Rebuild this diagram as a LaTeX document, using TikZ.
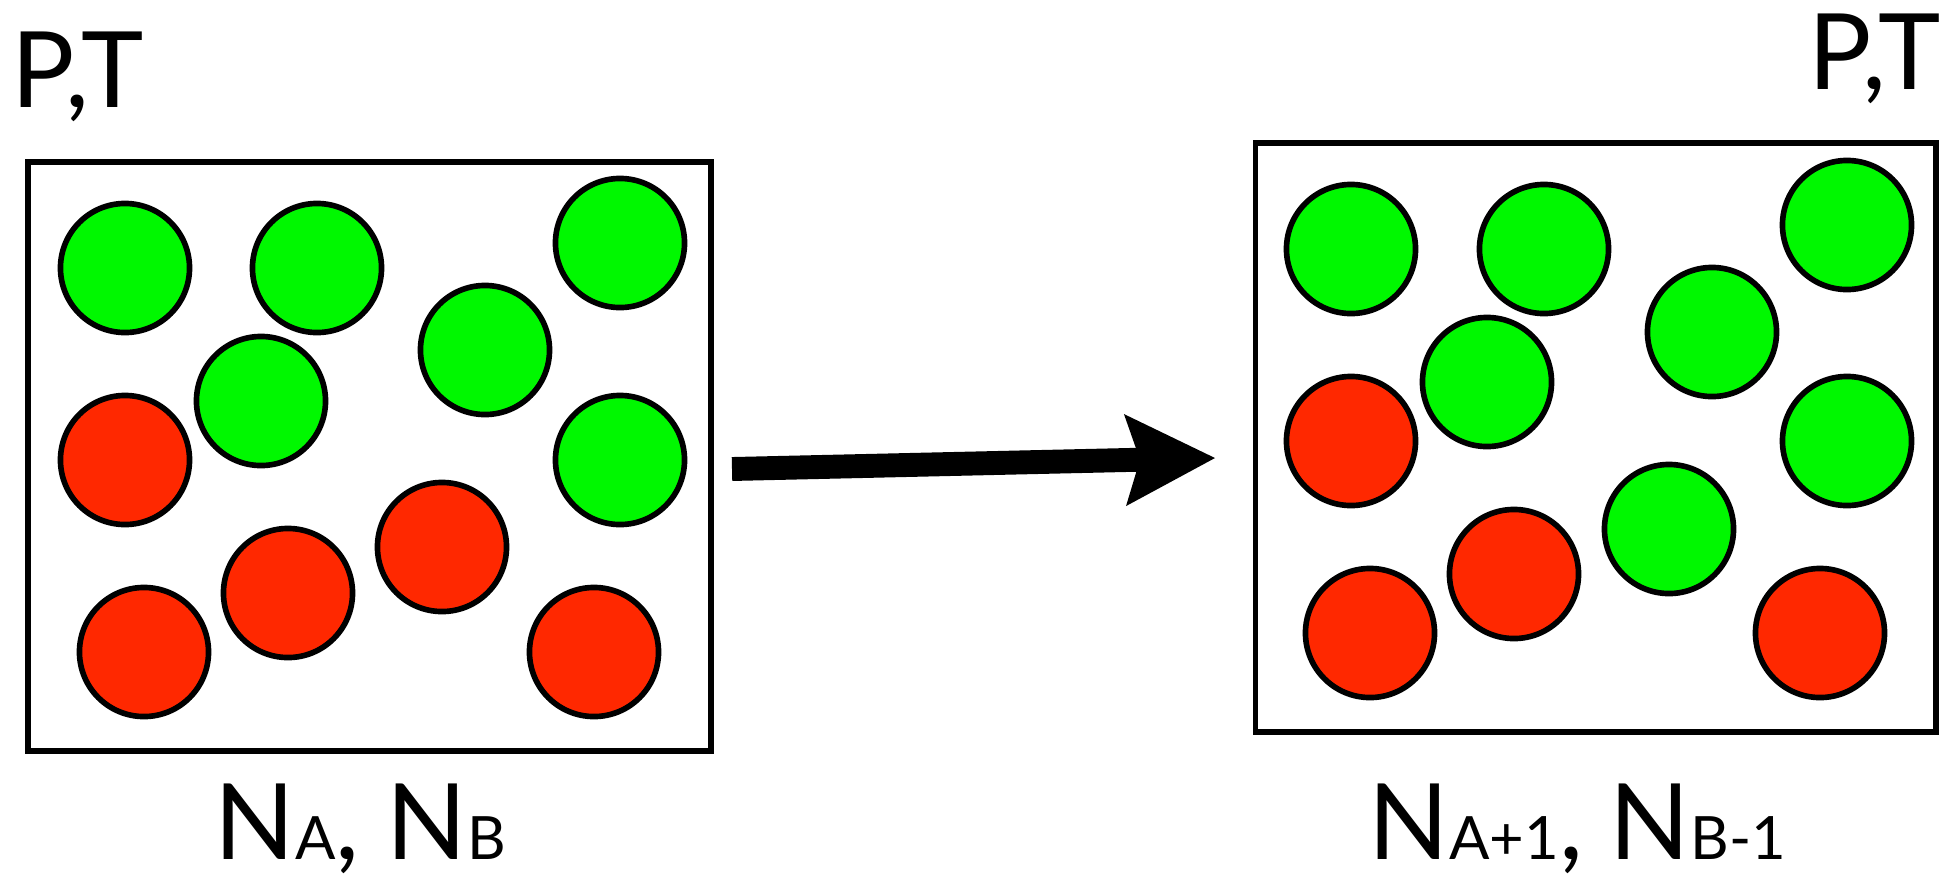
\documentclass[tikz,border=0pt]{standalone}
\usepackage{fontspec}
\setmainfont{Lato}
\usetikzlibrary{arrows.meta, positioning}
\definecolor{moleculeGreen}{RGB}{0,248,0}
\definecolor{moleculeRed}{RGB}{255,40,0}
\newcommand{\molsub}[1]{{\fontsize{17pt}{17pt}\selectfont #1}}

\begin{document}
\begin{tikzpicture}[
    x=0.01cm, y=-0.01cm,
    container/.style={rectangle, draw=black, line width=1.6pt, inner sep=0pt, minimum height=5.89cm},
    molecule/.style={circle, draw=black, line width=1.6pt, inner sep=0pt, minimum size=1.29cm},
    speciesA/.style={molecule, fill=moleculeGreen},
    speciesB/.style={molecule, fill=moleculeRed},
    statetext/.style={inner sep=0pt, anchor=base west, text depth=0pt, font=\fontsize{30pt}{30pt}\selectfont},
    arrow/.style={-{Stealth[length=9mm, width=9.2mm, inset=1.5mm, line width=0pt]}, line width=6.8pt}
]
\useasboundingbox (0,0) rectangle (1939,878);

% Containers
\node[container, minimum width=6.83cm] (before) at (369.5,456.5) {};
\node[container, minimum width=6.80cm] (after) at (1595.75,437.5) {};

% Molecules before
\node[speciesA] (a1) at (125,268) {};
\node[speciesA] (a2) at (317,268) {};
\node[speciesA] (a3) at (620,243) {};
\node[speciesA] (a4) at (485,350) {};
\node[speciesA] (a5) at (261,401) {};
\node[speciesA] (a6) at (620,460) {};
\node[speciesB] (b1) at (125,460) {};
\node[speciesB] (b2) at (442,547) {};
\node[speciesB] (b3) at (288,593) {};
\node[speciesB] (b4) at (144,652) {};
\node[speciesB] (b5) at (594,652) {};

% Molecules after
\node[speciesA] (a1') at (1351,249) {};
\node[speciesA] (a2') at (1544,249) {};
\node[speciesA] (a3') at (1847,225) {};
\node[speciesA] (a4') at (1712,332) {};
\node[speciesA] (a5') at (1487,382) {};
\node[speciesA] (a6') at (1847,441) {};
\node[speciesA] (a7') at (1669,529) {};
\node[speciesB] (b1') at (1351,441) {};
\node[speciesB] (b2') at (1514,574) {};
\node[speciesB] (b3') at (1370,633) {};
\node[speciesB] (b4') at (1820,633) {};

% Labels
\node[statetext] (ptBefore) at (11,107) {P,T};
\node[statetext] (ptAfter) at (1808,89) {P,T};
\node[statetext] (countBefore) at (214,859) {N\molsub{A}, N\molsub{B}};
\node[statetext] (countAfter) at (1368,859) {N\molsub{A+1}, N\molsub{B-1}};

% Arrow
\coordinate (arrowStart) at (732,469);
\coordinate (arrowEnd) at (1215,458);
\draw[arrow] (arrowStart) -- (arrowEnd);

\end{tikzpicture}
\end{document}
